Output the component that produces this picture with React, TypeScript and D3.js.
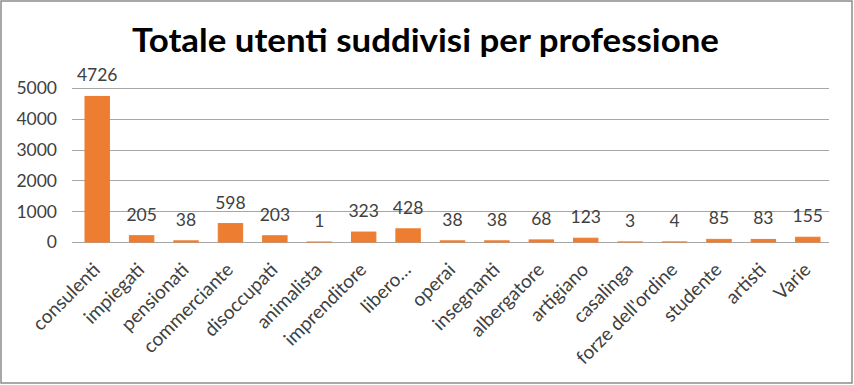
import React from 'react';
import * as d3 from 'd3';

const categories = ['consulenti', 'impiegati', 'pensionati', 'commerciante', 'disoccupati', 'animalista', 'imprenditore', 'libero…', 'operai', 'insegnanti', 'albergatore', 'artigiano', 'casalinga', "forze dell'ordine", 'studente', 'artisti', 'Varie'];
const values = [4726, 205, 38, 598, 203, 1, 323, 428, 38, 38, 68, 123, 3, 4, 85, 83, 155];
const yTicks = [0, 1000, 2000, 3000, 4000, 5000];

const W = 854;
const H = 385;
const font = 'Lato, "Open Sans", sans-serif';

const App: React.FC = () => {
  // plot area
  const left = 75;
  const right = 830;
  const top = 88;
  const bottom = 242;
  const x = d3.scaleBand().domain(categories).range([left, right]).paddingInner(0.45).paddingOuter(0.225);
  const y = d3.scaleLinear().domain([0, 5000]).range([bottom, top]);
  return <svg width={W} height={H} style={{ position: 'absolute', left: 0, top: 0, background: '#fff' }}>
      <rect x={1} y={1} width={W - 3} height={H - 3} fill="#fff" stroke="#8c8c8c" strokeWidth={1.5} />
      <text x={425.5} y={52} textAnchor="middle" fontFamily={font} fontWeight="bold" fontSize={33} fill="#000" textLength={587} lengthAdjust="spacingAndGlyphs">Totale utenti suddivisi per professione</text>
      {yTicks.map(t => <g key={t}>
          <line x1={72} x2={829} y1={Math.round(y(t)) + 0.5} y2={Math.round(y(t)) + 0.5} stroke="#a6a6a6" strokeWidth={1} />
          <text x={57} y={y(t)} dy="0.36em" textAnchor="end" fontFamily={font} fontSize={17.5} fill="#404040">{t}</text>
        </g>)}
      {categories.map((c, i) => {
      const cx = (x(c) || 0) + x.bandwidth() / 2;
      return <g key={c}>
            <rect x={x(c)} y={y(values[i])} width={x.bandwidth()} height={bottom - y(values[i])} fill="#ED7D31" stroke="#ED7D31" strokeWidth={1} />
            <text x={cx} y={y(values[i]) - 15} textAnchor="middle" fontFamily={font} fontSize={17.5} fill="#404040">{values[i]}</text>
            <text transform={`translate(${cx + 4},${bottom + 29}) rotate(-45)`} textAnchor="end" fontFamily={font} fontSize={19} fill="#404040">{c}</text>
          </g>;
    })}
    </svg>;
};

export default App;
